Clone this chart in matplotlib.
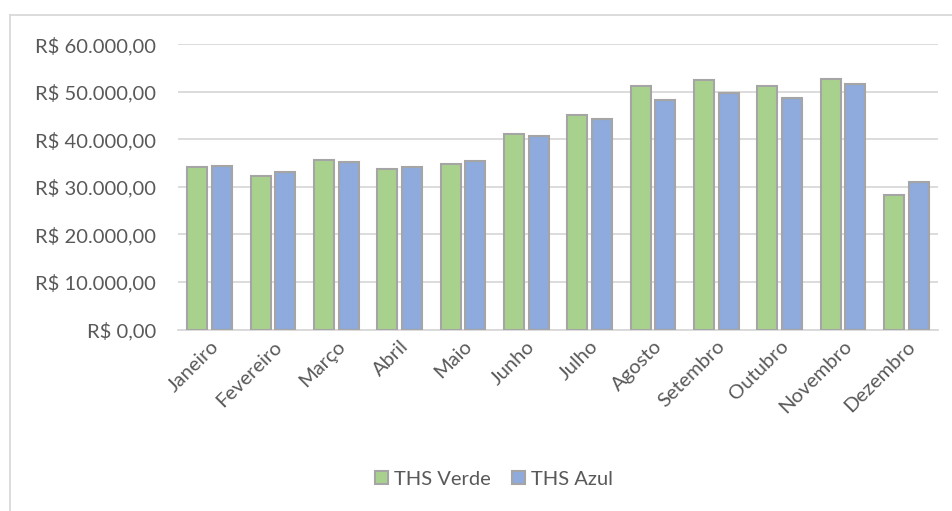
import matplotlib.pyplot as plt
import numpy as np
from matplotlib.lines import Line2D

meses = ["Janeiro", "Fevereiro", "Março", "Abril", "Maio", "Junho", "Julho",
         "Agosto", "Setembro", "Outubro", "Novembro", "Dezembro"]
ths_verde = [34100, 32200, 35700, 33800, 34900, 41100, 45100, 51300, 52400, 51300, 52800, 28300]
ths_azul = [34300, 33200, 35200, 34100, 35400, 40800, 44300, 48300, 49700, 48800, 51600, 31000]
yticks = [0, 10000, 20000, 30000, 40000, 50000, 60000]


def brl(v):
    # formato R$ 10.000,00
    s = "{:,.2f}".format(v)
    s = s.replace(",", "X").replace(".", ",").replace("X", ".")
    return "R$ " + s


plt.rcParams['font.family'] = ['Lato', 'DejaVu Sans']
cinza = "#595959"
fs = 14.5

fig = plt.figure(figsize=(9.52, 5.11), dpi=100)
ax = fig.add_axes([178 / 952, 1 - 329.5 / 511, (938 - 178) / 952, (329.5 - 44.3) / 511])

x = np.arange(len(meses))
w = 0.315
off = 0.195
ax.bar(x - off, ths_verde, w, color="#A9D18E", edgecolor="#A5A5A5", linewidth=1.5, label="THS Verde", zorder=3)
ax.bar(x + off, ths_azul, w, color="#8FAADC", edgecolor="#A5A5A5", linewidth=1.5, label="THS Azul", zorder=3)

ax.set_xlim(-0.5, len(meses) - 0.5)
ax.set_ylim(0, 60000)
ax.set_yticks(yticks)
ax.set_yticklabels([brl(v) for v in yticks], color=cinza, fontsize=fs)
ax.set_xticks(x)
ax.set_xticklabels(meses, rotation=45, ha="right", rotation_mode="anchor", color=cinza, fontsize=fs)
ax.tick_params(axis="both", length=0)
ax.tick_params(axis="y", pad=16)
ax.tick_params(axis="x", pad=6)

ax.grid(axis="y", color="#D9D9D9", linewidth=1.3, zorder=0)
for s in ["top", "right", "left"]:
    ax.spines[s].set_visible(False)
ax.spines["bottom"].set_color("#D9D9D9")
ax.spines["bottom"].set_linewidth(1.3)

leg = fig.legend(loc="center", bbox_to_anchor=(494 / 952, 1 - 479 / 511), ncol=2, frameon=False,
                 fontsize=fs, handlelength=0.6, handleheight=0.6, handletextpad=0.3, columnspacing=1.1)
for t in leg.get_texts():
    t.set_color(cinza)

# moldura do gráfico (só topo e esquerda aparecem)
fig.add_artist(Line2D([10 / 952, 10 / 952], [0, 1 - 15 / 511], transform=fig.transFigure, color="#D9D9D9", linewidth=1.3))
fig.add_artist(Line2D([10 / 952, 1], [1 - 15 / 511, 1 - 15 / 511], transform=fig.transFigure, color="#D9D9D9", linewidth=1.3))

plt.savefig("out.png", dpi=100)
